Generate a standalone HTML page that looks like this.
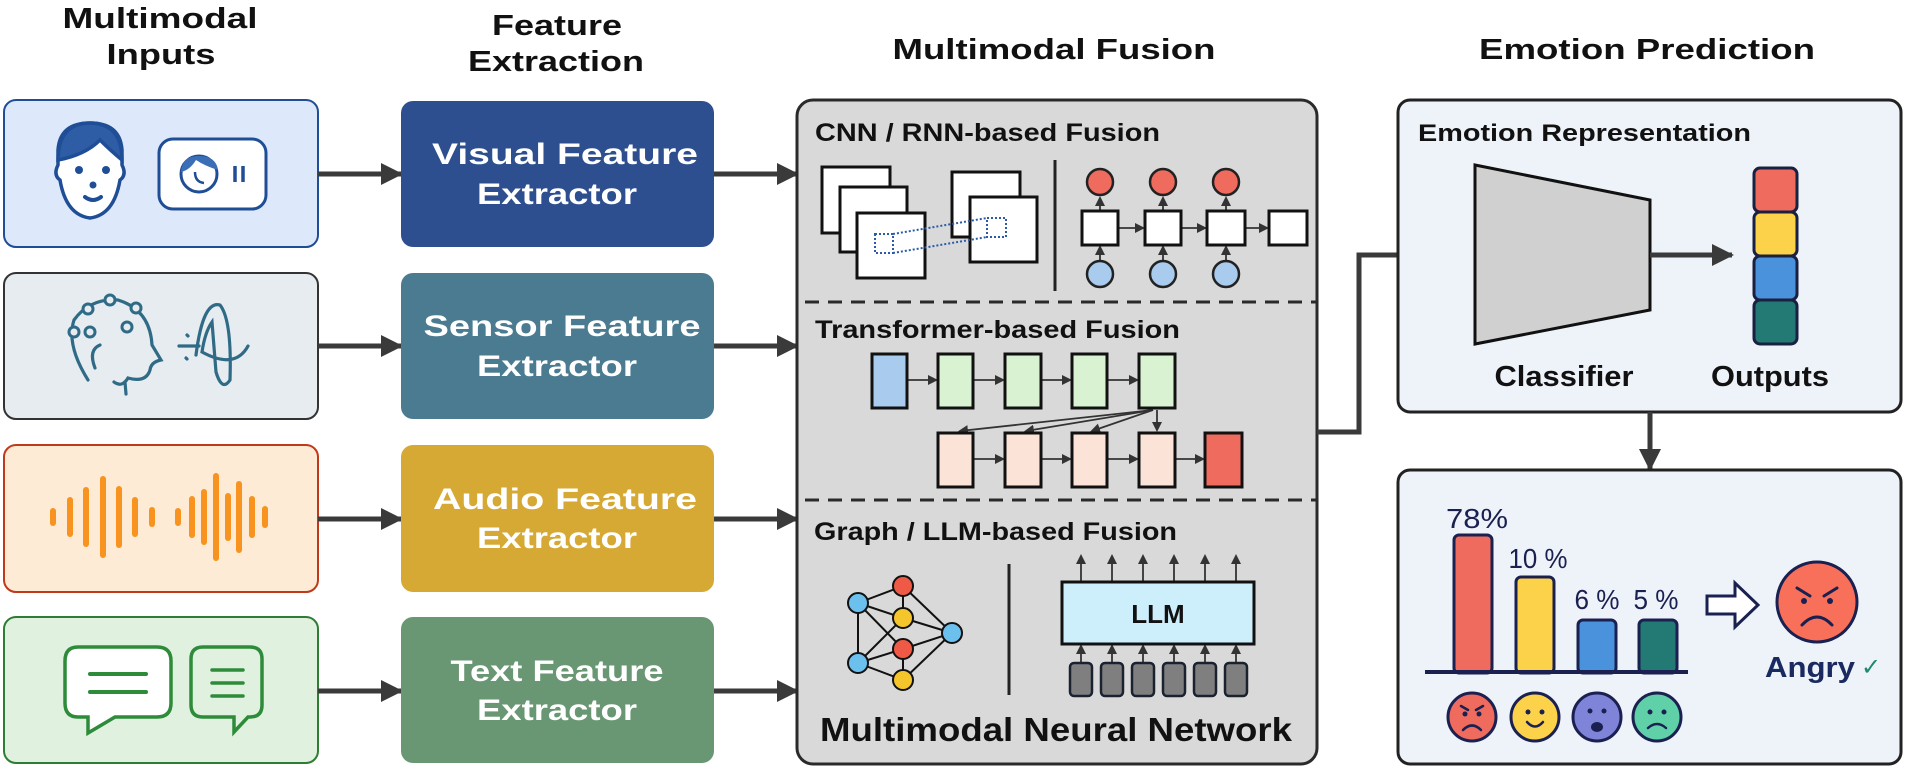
<!DOCTYPE html>
<html><head><meta charset="utf-8"><style>
html,body{margin:0;padding:0;background:#fff;}
svg{display:block;}
text{font-family:"Liberation Sans",sans-serif;}
</style></head><body>
<svg width="1906" height="769" viewBox="0 0 1906 769" xmlns="http://www.w3.org/2000/svg">
<defs>
<marker id="ah" markerWidth="10" markerHeight="10" refX="8" refY="5" orient="auto" markerUnits="userSpaceOnUse"><path d="M0,0 L10,5 L0,10 z" fill="#333"/></marker>
<marker id="bigah" markerWidth="22" markerHeight="22" refX="20" refY="11" orient="auto" markerUnits="userSpaceOnUse"><path d="M0,0 L22,11 L0,22 z" fill="#3a3a3a"/></marker>
</defs>

<!-- Titles -->
<g font-weight="bold" font-size="29" fill="#111" text-anchor="middle" lengthAdjust="spacingAndGlyphs">
<text x="160" y="28" textLength="195" lengthAdjust="spacingAndGlyphs">Multimodal</text>
<text x="161" y="64" textLength="109" lengthAdjust="spacingAndGlyphs">Inputs</text>
<text x="557" y="35" textLength="130" lengthAdjust="spacingAndGlyphs">Feature</text>
<text x="556" y="71" textLength="176" lengthAdjust="spacingAndGlyphs">Extraction</text>
<text x="1054" y="59" textLength="323" lengthAdjust="spacingAndGlyphs">Multimodal Fusion</text>
<text x="1647" y="59" textLength="336" lengthAdjust="spacingAndGlyphs">Emotion Prediction</text>
</g>

<!-- Input boxes -->
<rect x="4" y="100" width="314" height="147" rx="12" fill="#dde9fa" stroke="#1f4e96" stroke-width="2"/>
<rect x="4" y="273" width="314" height="146" rx="12" fill="#e6ecf0" stroke="#333" stroke-width="2"/>
<rect x="4" y="445" width="314" height="147" rx="12" fill="#fdebd6" stroke="#c0391b" stroke-width="2"/>
<rect x="4" y="617" width="314" height="146" rx="12" fill="#e0f2df" stroke="#2e7d32" stroke-width="2"/>

<!-- face icon -->
<g stroke="#1f4e96" stroke-width="3.5" fill="#fff">
<path d="M58,165 Q53,175 60,180 Q66,215 90,218 Q114,215 120,180 Q127,175 122,165 L122,150 Q120,123 90,123 Q60,123 58,150 Z"/>
<path d="M58,160 Q58,123 90,123 Q122,123 122,160 Q110,150 100,140 Q85,155 58,160 Z" fill="#2e5da5"/>
</g>
<circle cx="79" cy="170" r="4" fill="#1f4e96"/><circle cx="106" cy="170" r="4" fill="#1f4e96"/>
<circle cx="93" cy="185" r="3.5" fill="#1f4e96"/>
<path d="M85,197 Q93,203 101,197" stroke="#1f4e96" stroke-width="4" fill="none" stroke-linecap="round"/>
<!-- video icon -->
<rect x="159" y="139" width="107" height="70" rx="14" fill="#fff" stroke="#1f4e96" stroke-width="3"/>
<circle cx="199" cy="174" r="18" fill="#fff" stroke="#1f4e96" stroke-width="3"/>
<path d="M181,172 Q182,156 199,156 Q216,156 218,170 Q205,166 196,160 Q190,170 181,172Z" fill="#3a6fb7"/>
<path d="M195,172 Q195,182 204,183" stroke="#1f4e96" stroke-width="2.5" fill="none"/>
<line x1="235" y1="166" x2="235" y2="182" stroke="#1f4e96" stroke-width="3.5"/>
<line x1="243" y1="166" x2="243" y2="182" stroke="#1f4e96" stroke-width="3.5"/>

<!-- sensor icon -->
<g stroke="#2f6b86" stroke-width="3.2" fill="none" stroke-linecap="round">
<path d="M88,380 Q66,345 74,320 Q90,298 118,300 Q150,310 152,345 L161,360 Q151,362 150,370 Q146,383 128,378 Q122,388 114,382"/>
<path d="M100,345 Q88,350 95,368"/>
<line x1="125" y1="382" x2="126" y2="394"/>
<path d="M179,346 L199,346 M187,335 L188,336 M186,358 L187,359"/>
<path d="M196,355 Q203,300 220,305 Q232,320 230,380 Q222,392 216,372 L212,322 Q205,332 202,352 Q235,370 248,346"/>
</g>
<g fill="#e6ecf0" stroke="#2f6b86" stroke-width="3">
<circle cx="90" cy="332" r="5"/><circle cx="88" cy="309" r="5"/><circle cx="110" cy="300" r="5"/><circle cx="136" cy="308" r="5"/><circle cx="127" cy="327" r="5"/><circle cx="74" cy="332" r="5"/>
</g>

<!-- audio icon -->
<g stroke="#f7931e" stroke-width="6" stroke-linecap="round">
<line x1="53" y1="511" x2="53" y2="523"/><line x1="70" y1="500" x2="70" y2="534"/><line x1="86" y1="490" x2="86" y2="544"/><line x1="103" y1="479" x2="103" y2="555"/><line x1="119" y1="489" x2="119" y2="545"/><line x1="135" y1="500" x2="135" y2="534"/><line x1="152" y1="510" x2="152" y2="524"/>
<line x1="178" y1="511" x2="178" y2="523"/><line x1="192" y1="499" x2="192" y2="535"/><line x1="204" y1="492" x2="204" y2="542"/><line x1="216" y1="476" x2="216" y2="558"/><line x1="228" y1="496" x2="228" y2="538"/><line x1="239" y1="484" x2="239" y2="550"/><line x1="252" y1="499" x2="252" y2="535"/><line x1="265" y1="509" x2="265" y2="525"/>
</g>

<!-- chat icons -->
<path d="M78,647 L157,647 Q171,647 171,661 L171,703 Q171,717 157,717 L115,717 L88,733 L88,717 L78,717 Q65,717 65,703 L65,661 Q65,647 78,647Z" fill="#fff" stroke="#2e8b3a" stroke-width="3.5"/>
<line x1="90" y1="674" x2="146" y2="674" stroke="#2e8b3a" stroke-width="4" stroke-linecap="round"/>
<line x1="90" y1="692" x2="146" y2="692" stroke="#2e8b3a" stroke-width="4" stroke-linecap="round"/>
<path d="M203,647 L250,647 Q262,647 262,659 L262,705 Q262,717 250,717 L248,717 L234,732 L234,717 L203,717 Q191,717 191,705 L191,659 Q191,647 203,647Z" fill="#e0f2df" stroke="#2e8b3a" stroke-width="3.5"/>
<g stroke="#2e8b3a" stroke-width="3.5" stroke-linecap="round"><line x1="212" y1="670" x2="243" y2="670"/><line x1="212" y1="683" x2="243" y2="683"/><line x1="212" y1="696" x2="243" y2="696"/></g>

<!-- arrows -->
<g stroke="#3a3a3a" stroke-width="5" marker-end="url(#bigah)">
<line x1="318" y1="174" x2="401" y2="174"/><line x1="318" y1="346" x2="401" y2="346"/><line x1="318" y1="519" x2="401" y2="519"/><line x1="318" y1="691" x2="401" y2="691"/>
<line x1="714" y1="174" x2="797" y2="174"/><line x1="714" y1="346" x2="797" y2="346"/><line x1="714" y1="519" x2="797" y2="519"/><line x1="714" y1="691" x2="797" y2="691"/>
</g>

<!-- extractors -->
<rect x="401" y="101" width="313" height="146" rx="12" fill="#2e4f8f"/>
<rect x="401" y="273" width="313" height="146" rx="12" fill="#4a7b91"/>
<rect x="401" y="445" width="313" height="147" rx="12" fill="#d6a935"/>
<rect x="401" y="617" width="313" height="146" rx="12" fill="#6a9773"/>
<g fill="#fff" font-weight="bold" font-size="30" text-anchor="middle">
<text x="565" y="164" textLength="266" lengthAdjust="spacingAndGlyphs">Visual Feature</text><text x="557" y="204" textLength="160" lengthAdjust="spacingAndGlyphs">Extractor</text>
<text x="562" y="336" textLength="277" lengthAdjust="spacingAndGlyphs">Sensor Feature</text><text x="557" y="376" textLength="160" lengthAdjust="spacingAndGlyphs">Extractor</text>
<text x="565" y="509" textLength="264" lengthAdjust="spacingAndGlyphs">Audio Feature</text><text x="557" y="548" textLength="160" lengthAdjust="spacingAndGlyphs">Extractor</text>
<text x="557" y="681" textLength="213" lengthAdjust="spacingAndGlyphs">Text Feature</text><text x="557" y="720" textLength="160" lengthAdjust="spacingAndGlyphs">Extractor</text>
</g>

<!-- fusion box -->
<rect x="797" y="100" width="520" height="664" rx="16" fill="#d9d9d9" stroke="#2a2a2a" stroke-width="3"/>
<g stroke="#2a2a2a" stroke-width="3" stroke-dasharray="14,9"><line x1="805" y1="302" x2="1316" y2="302"/><line x1="805" y1="500" x2="1316" y2="500"/></g>
<g font-weight="bold" font-size="25" fill="#111">
<text x="815" y="141" textLength="345" lengthAdjust="spacingAndGlyphs">CNN / RNN-based Fusion</text>
<text x="815" y="338" textLength="365" lengthAdjust="spacingAndGlyphs">Transformer-based Fusion</text>
<text x="814" y="540" textLength="363" lengthAdjust="spacingAndGlyphs">Graph / LLM-based Fusion</text>
</g>
<text x="1056" y="741" font-weight="bold" font-size="33" fill="#111" text-anchor="middle" textLength="472" lengthAdjust="spacingAndGlyphs">Multimodal Neural Network</text>

<!-- CNN -->
<g fill="#fff" stroke="#111" stroke-width="3">
<rect x="822" y="167" width="68" height="66"/><rect x="840" y="187" width="67" height="65"/><rect x="857" y="213" width="68" height="65"/>
<rect x="952" y="172" width="68" height="65"/><rect x="970" y="197" width="67" height="65"/>
</g>
<g fill="none" stroke="#2a5aa8" stroke-width="2" stroke-dasharray="2,2">
<rect x="875" y="234" width="18" height="19"/><rect x="987" y="218" width="19" height="19"/>
<line x1="893" y1="234" x2="987" y2="218"/><line x1="893" y1="253" x2="987" y2="237"/>
</g>
<line x1="1055" y1="160" x2="1055" y2="291" stroke="#222" stroke-width="3"/>
<!-- RNN -->
<g stroke="#333" stroke-width="1.8" marker-end="url(#ah)">
<line x1="1118" y1="228" x2="1143" y2="228"/><line x1="1181" y1="228" x2="1205" y2="228"/><line x1="1245" y1="228" x2="1267" y2="228"/>
<line x1="1100" y1="211" x2="1100" y2="198"/><line x1="1163" y1="211" x2="1163" y2="198"/><line x1="1226" y1="211" x2="1226" y2="198"/>
<line x1="1100" y1="260" x2="1100" y2="247"/><line x1="1163" y1="260" x2="1163" y2="247"/><line x1="1226" y1="260" x2="1226" y2="247"/>
</g>
<g fill="#fff" stroke="#111" stroke-width="3">
<rect x="1082" y="211" width="36" height="34"/><rect x="1145" y="211" width="36" height="34"/><rect x="1207" y="211" width="38" height="34"/><rect x="1269" y="211" width="38" height="34"/>
</g>
<g stroke="#222" stroke-width="2.5">
<circle cx="1100" cy="182" r="13" fill="#ee6b5e"/><circle cx="1163" cy="182" r="13" fill="#ee6b5e"/><circle cx="1226" cy="182" r="13" fill="#ee6b5e"/>
<circle cx="1100" cy="274" r="13" fill="#a8cbee"/><circle cx="1163" cy="274" r="13" fill="#a8cbee"/><circle cx="1226" cy="274" r="13" fill="#a8cbee"/>
</g>

<!-- Transformer -->
<g stroke="#333" stroke-width="1.8" marker-end="url(#ah)">
<line x1="907" y1="380" x2="936" y2="380"/><line x1="973" y1="380" x2="1003" y2="380"/><line x1="1041" y1="380" x2="1070" y2="380"/><line x1="1107" y1="380" x2="1137" y2="380"/>
<line x1="973" y1="459" x2="1003" y2="459"/><line x1="1041" y1="459" x2="1070" y2="459"/><line x1="1107" y1="459" x2="1137" y2="459"/><line x1="1175" y1="459" x2="1203" y2="459"/>
<line x1="1153" y1="410" x2="960" y2="431"/><line x1="1153" y1="410" x2="1026" y2="431"/><line x1="1153" y1="410" x2="1092" y2="431"/><line x1="1157" y1="410" x2="1157" y2="430"/>
</g>
<g stroke="#111" stroke-width="3">
<rect x="872" y="354" width="35" height="54" fill="#a8cbee"/>
<rect x="938" y="354" width="35" height="54" fill="#d9f2d2"/><rect x="1005" y="354" width="36" height="54" fill="#d9f2d2"/><rect x="1072" y="354" width="35" height="54" fill="#d9f2d2"/><rect x="1139" y="354" width="36" height="54" fill="#d9f2d2"/>
<rect x="938" y="433" width="35" height="54" fill="#fce3d8"/><rect x="1005" y="433" width="36" height="54" fill="#fce3d8"/><rect x="1072" y="433" width="35" height="54" fill="#fce3d8"/><rect x="1139" y="433" width="36" height="54" fill="#fce3d8"/>
<rect x="1205" y="433" width="37" height="54" fill="#ee6b5e"/>
</g>

<!-- Graph -->
<g stroke="#111" stroke-width="2">
<line x1="858" y1="603" x2="903" y2="586"/><line x1="858" y1="603" x2="903" y2="618"/><line x1="858" y1="603" x2="903" y2="649"/><line x1="858" y1="603" x2="858" y2="663"/>
<line x1="858" y1="663" x2="903" y2="618"/><line x1="858" y1="663" x2="903" y2="649"/><line x1="858" y1="663" x2="903" y2="680"/>
<line x1="903" y1="586" x2="952" y2="633"/><line x1="903" y1="618" x2="952" y2="633"/><line x1="903" y1="649" x2="952" y2="633"/><line x1="903" y1="680" x2="952" y2="633"/><line x1="903" y1="586" x2="903" y2="618"/><line x1="903" y1="649" x2="903" y2="680"/>
</g>
<g stroke="#111" stroke-width="2">
<circle cx="858" cy="603" r="10" fill="#6cc0ee"/><circle cx="903" cy="586" r="10" fill="#ee5a45"/><circle cx="903" cy="618" r="10" fill="#f4c62b"/><circle cx="903" cy="649" r="10" fill="#ee5a45"/><circle cx="858" cy="663" r="10" fill="#6cc0ee"/><circle cx="903" cy="680" r="10" fill="#f4c62b"/><circle cx="952" cy="633" r="10" fill="#6cc0ee"/>
</g>
<line x1="1009" y1="564" x2="1009" y2="695" stroke="#222" stroke-width="3"/>
<!-- LLM -->
<g stroke="#333" stroke-width="1.8" marker-end="url(#ah)">
<line x1="1081" y1="582" x2="1081" y2="556"/><line x1="1112" y1="582" x2="1112" y2="556"/><line x1="1143" y1="582" x2="1143" y2="556"/><line x1="1174" y1="582" x2="1174" y2="556"/><line x1="1205" y1="582" x2="1205" y2="556"/><line x1="1236" y1="582" x2="1236" y2="556"/>
<line x1="1081" y1="663" x2="1081" y2="646"/><line x1="1112" y1="663" x2="1112" y2="646"/><line x1="1143" y1="663" x2="1143" y2="646"/><line x1="1174" y1="663" x2="1174" y2="646"/><line x1="1205" y1="663" x2="1205" y2="646"/><line x1="1236" y1="663" x2="1236" y2="646"/>
</g>
<rect x="1062" y="582" width="192" height="62" fill="#cdeefb" stroke="#111" stroke-width="3"/>
<text x="1158" y="623" font-weight="bold" font-size="26" fill="#111" text-anchor="middle">LLM</text>
<g fill="#7f7f7f" stroke="#1a2230" stroke-width="2.5">
<rect x="1070" y="663" width="22" height="33" rx="4"/><rect x="1101" y="663" width="22" height="33" rx="4"/><rect x="1132" y="663" width="22" height="33" rx="4"/><rect x="1163" y="663" width="22" height="33" rx="4"/><rect x="1194" y="663" width="22" height="33" rx="4"/><rect x="1225" y="663" width="22" height="33" rx="4"/>
</g>

<!-- fusion -> classifier connector -->
<path d="M1317,432 L1359,432 L1359,255 L1473,255" fill="none" stroke="#3a3a3a" stroke-width="5" marker-end="url(#bigah)"/>

<!-- Emotion representation box -->
<rect x="1398" y="100" width="503" height="312" rx="12" fill="#eef3fa" stroke="#222" stroke-width="3"/>
<text x="1418" y="141" font-weight="bold" font-size="24" fill="#111" textLength="333" lengthAdjust="spacingAndGlyphs">Emotion Representation</text>
<polygon points="1475,165 1650,200 1650,310 1475,344" fill="#d0d0d0" stroke="#111" stroke-width="3"/>
<line x1="1650" y1="255" x2="1732" y2="255" stroke="#3a3a3a" stroke-width="5" marker-end="url(#bigah)"/>
<g stroke="#1a2040" stroke-width="3">
<rect x="1754" y="168" width="43" height="44" rx="6" fill="#ee6b5e"/>
<rect x="1754" y="212" width="43" height="44" rx="6" fill="#fcd24a"/>
<rect x="1754" y="256" width="43" height="44" rx="6" fill="#4a92dc"/>
<rect x="1754" y="300" width="43" height="44" rx="6" fill="#237a74"/>
</g>
<g font-weight="bold" font-size="29" fill="#111" text-anchor="middle">
<text x="1564" y="386" textLength="139" lengthAdjust="spacingAndGlyphs">Classifier</text><text x="1770" y="386" textLength="118" lengthAdjust="spacingAndGlyphs">Outputs</text>
</g>
<line x1="1650" y1="412" x2="1650" y2="469" stroke="#3a3a3a" stroke-width="5" marker-end="url(#bigah)"/>

<!-- bottom box -->
<rect x="1398" y="470" width="503" height="294" rx="12" fill="#eef3fa" stroke="#222" stroke-width="3"/>
<g stroke="#1a2050" stroke-width="3">
<rect x="1454" y="535" width="38" height="138" rx="5" fill="#ee6b5e"/>
<rect x="1516" y="577" width="38" height="96" rx="5" fill="#fcd24a"/>
<rect x="1578" y="620" width="38" height="53" rx="5" fill="#4a92dc"/>
<rect x="1639" y="620" width="38" height="53" rx="5" fill="#237a74"/>
</g>
<line x1="1425" y1="672" x2="1688" y2="672" stroke="#1a2050" stroke-width="4"/>
<g font-size="28" fill="#1a2050" text-anchor="middle">
<text x="1477" y="528" textLength="62" lengthAdjust="spacingAndGlyphs">78%</text><text x="1538" y="568" textLength="59" lengthAdjust="spacingAndGlyphs">10 %</text><text x="1597" y="609" textLength="45" lengthAdjust="spacingAndGlyphs">6 %</text><text x="1656" y="609" textLength="45" lengthAdjust="spacingAndGlyphs">5 %</text>
</g>
<path d="M1707,596 L1735,596 L1735,583 L1758,605 L1735,627 L1735,614 L1707,614 Z" fill="#fff" stroke="#1a2050" stroke-width="3"/>
<!-- small faces -->
<g stroke="#1a2050" stroke-width="3">
<circle cx="1472" cy="717" r="24" fill="#ee6b5e"/><circle cx="1535" cy="717" r="24" fill="#fcd24a"/><circle cx="1597" cy="717" r="24" fill="#7f84d8"/><circle cx="1657" cy="717" r="24" fill="#5fd0a8"/>
</g>
<g fill="#1a2050">
<circle cx="1465" cy="714" r="2.5"/><circle cx="1479" cy="714" r="2.5"/>
<circle cx="1528" cy="712" r="2.5"/><circle cx="1542" cy="712" r="2.5"/>
<circle cx="1590" cy="711" r="2.5"/><circle cx="1604" cy="711" r="2.5"/><ellipse cx="1597" cy="727" rx="6" ry="5"/>
<circle cx="1650" cy="712" r="2.5"/><circle cx="1664" cy="712" r="2.5"/>
</g>
<g fill="none" stroke="#1a2050" stroke-width="2.5" stroke-linecap="round">
<path d="M1463,730 Q1472,721 1481,730"/><path d="M1461,706 L1468,710 M1483,706 L1476,710"/>
<path d="M1527,722 Q1535,731 1543,722"/>
<path d="M1648,728 Q1657,720 1666,728"/>
</g>
<!-- angry face -->
<circle cx="1817" cy="602" r="40" fill="#f8705a" stroke="#1a2050" stroke-width="3"/>
<g stroke="#1a2050" stroke-width="3" fill="none" stroke-linecap="round">
<path d="M1797,588 L1810,596"/><path d="M1837,588 L1824,596"/>
<path d="M1802,625 Q1817,609 1832,625"/>
</g>
<circle cx="1804" cy="601" r="3" fill="#1a2050"/><circle cx="1830" cy="601" r="3" fill="#1a2050"/>
<text x="1810" y="677" font-weight="bold" font-size="29" fill="#1a2a60" text-anchor="middle" textLength="90" lengthAdjust="spacingAndGlyphs">Angry</text>
<text x="1871" y="675" font-size="24" fill="#1f8a6a" text-anchor="middle">✓</text>
</svg>
</body></html>
